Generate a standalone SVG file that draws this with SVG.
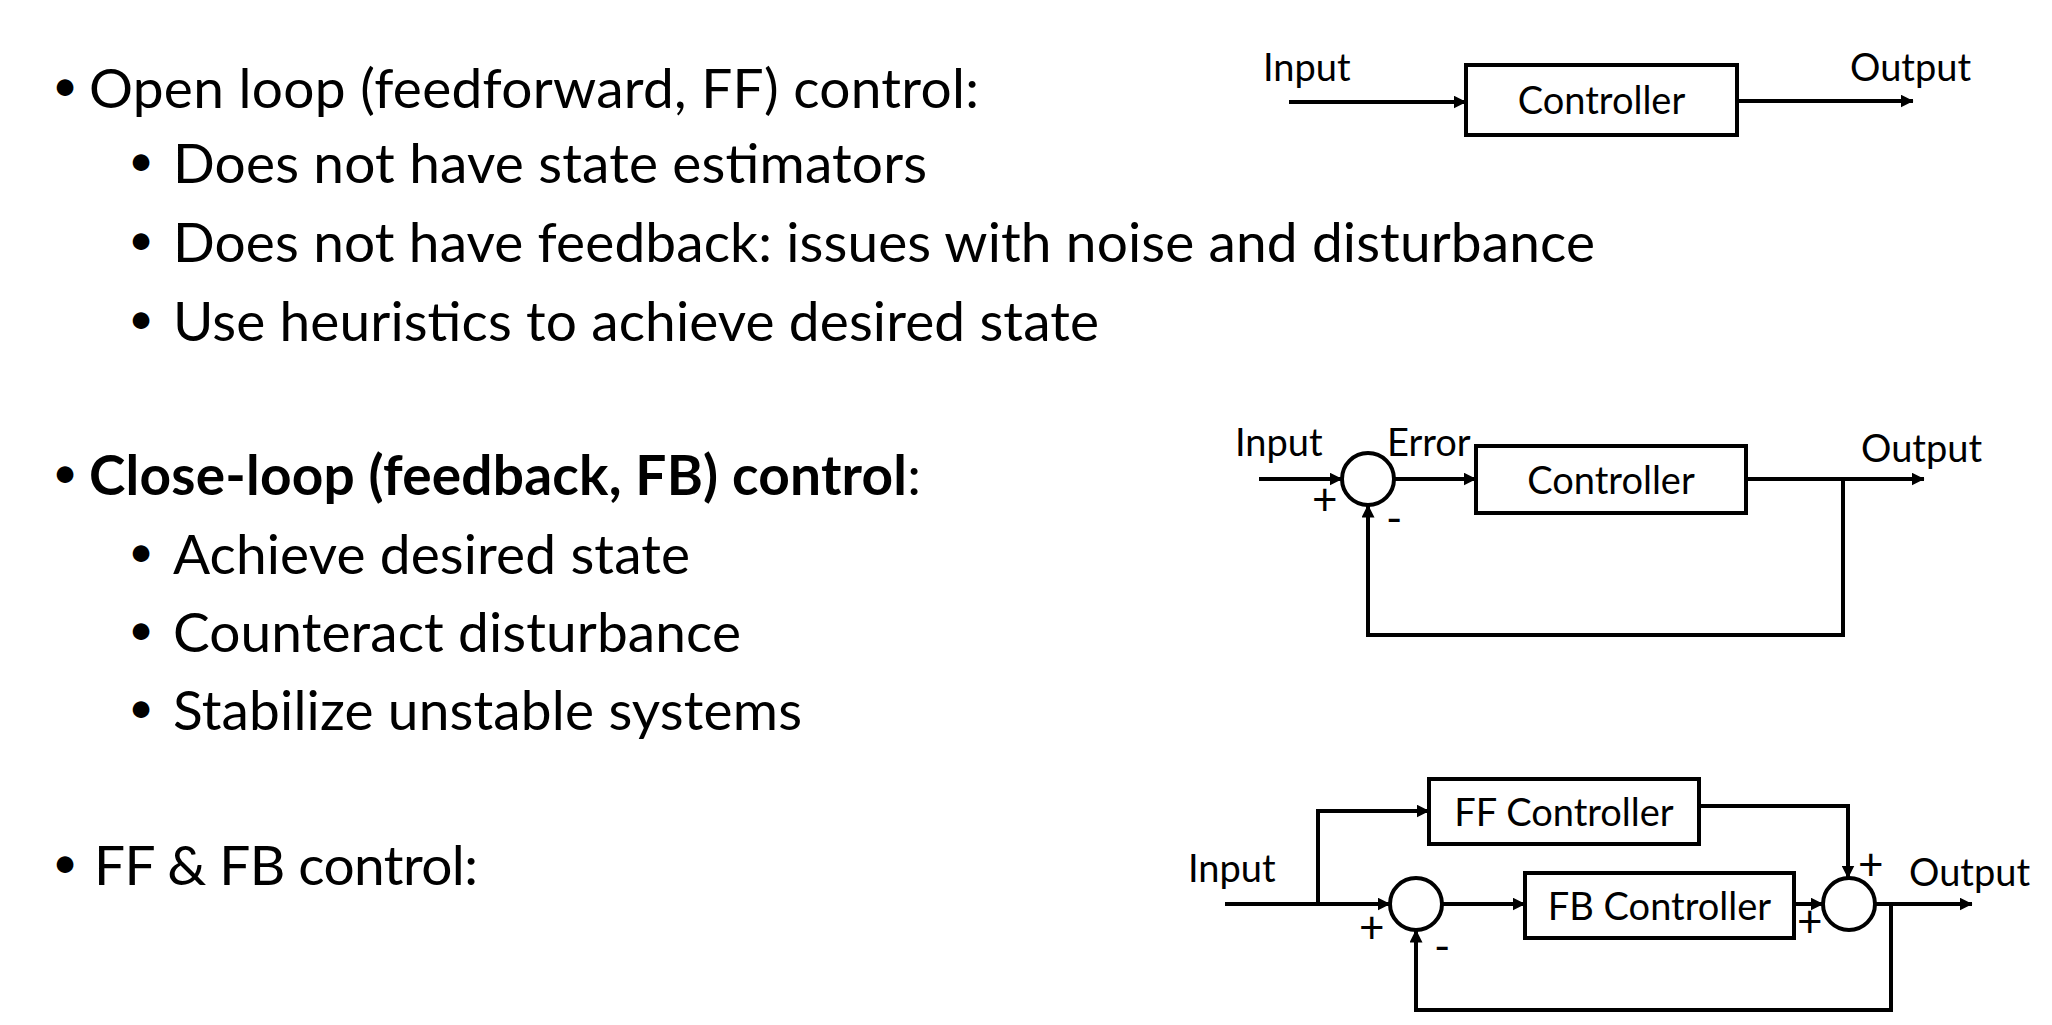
<svg xmlns="http://www.w3.org/2000/svg" width="2052" height="1025" viewBox="0 0 2052 1025">
<style>
.t{font-family:Lato,"Liberation Sans",sans-serif;font-size:55px;fill:#000}
.u{font-family:Lato,"Liberation Sans",sans-serif;font-size:45px;fill:#000}
.b{font-weight:bold}
.d{font-family:Lato,"Liberation Sans",sans-serif;font-size:38px;fill:#000}
.s{font-family:Lato,"Liberation Sans",sans-serif;font-size:44px;fill:#000}
.box{fill:#fff;stroke:#000;stroke-width:4}
.c{fill:#fff;stroke:#000;stroke-width:4}
.w{fill:none;stroke:#000;stroke-width:4}
</style>
<defs>
<marker id="arr" viewBox="0 0 13 13" refX="12.5" refY="6.5" markerWidth="13" markerHeight="13" orient="auto" markerUnits="userSpaceOnUse"><path d="M0,0 L13,6.5 L0,13 z" fill="#000"/></marker>
</defs>
<rect width="2052" height="1025" fill="#fff"/>
<g id="bullets">
<text class="u" x="52" y="101">•</text>
<text class="t" x="89" y="108" textLength="890">Open loop (feedforward, FF) control:</text>
<text class="u" x="128" y="176">•</text>
<text class="t" x="173" y="183" textLength="754">Does not have state estimators</text>
<text class="u" x="128" y="255">•</text>
<text class="t" x="173" y="262" textLength="1422">Does not have feedback: issues with noise and disturbance</text>
<text class="u" x="128" y="334">•</text>
<text class="t" x="173" y="341" textLength="926">Use heuristics to achieve desired state</text>
<text class="u" x="52" y="488">•</text>
<text class="t" x="89" y="495"><tspan class="b" textLength="818">Close-loop (feedback, FB) control</tspan>:</text>
<text class="u" x="128" y="567">•</text>
<text class="t" x="173" y="574" textLength="517">Achieve desired state</text>
<text class="u" x="128" y="645">•</text>
<text class="t" x="173" y="652" textLength="568">Counteract disturbance</text>
<text class="u" x="128" y="723">•</text>
<text class="t" x="173" y="730" textLength="629">Stabilize unstable systems</text>
<text class="u" x="52" y="878">•</text>
<text class="t" x="94" y="885" textLength="384">FF &amp; FB control:</text>
</g>
<g id="ol-controller"><rect class="box" x="1466" y="65" width="271" height="70"/><text class="d" x="1601.5" y="114" text-anchor="middle">Controller</text></g>
<g id="ol-labels"><text class="d" x="1263" y="81">Input</text><text class="d" x="1850" y="81">Output</text></g>
<g id="cl-sum"><circle class="c" cx="1368" cy="479" r="26"/></g>
<g id="cl-controller"><rect class="box" x="1476" y="446" width="270" height="67"/><text class="d" x="1611" y="494" text-anchor="middle">Controller</text></g>
<g id="cl-labels"><text class="d" x="1235" y="456">Input</text><text class="d" x="1387" y="456">Error</text><text class="d" x="1861" y="462">Output</text><text class="s" x="1312" y="515">+</text><text class="s" x="1386" y="534">-</text></g>
<g id="ff-controller"><rect class="box" x="1429" y="779" width="270" height="65"/><text class="d" x="1564" y="826" text-anchor="middle">FF Controller</text></g>
<g id="fb-controller"><rect class="box" x="1525" y="873" width="269" height="65"/><text class="d" x="1659.5" y="920" text-anchor="middle">FB Controller</text></g>
<g id="ffb-sum1"><circle class="c" cx="1416" cy="904" r="26"/></g>
<g id="ffb-sum2"><circle class="c" cx="1849" cy="904" r="26"/></g>
<g id="ffb-labels"><text class="d" x="1188" y="882">Input</text><text class="d" x="1909" y="886">Output</text><text class="s" x="1359" y="943">+</text><text class="s" x="1434" y="962">-</text><text class="s" x="1858" y="880">+</text><text class="s" x="1797" y="937">+</text></g>
<g id="connectors">
<line class="w" x1="1289" y1="102" x2="1466" y2="102" marker-end="url(#arr)"/>
<line class="w" x1="1737" y1="101" x2="1913" y2="101" marker-end="url(#arr)"/>
<line class="w" x1="1259" y1="479" x2="1342" y2="479" marker-end="url(#arr)"/>
<line class="w" x1="1394" y1="479" x2="1476" y2="479" marker-end="url(#arr)"/>
<line class="w" x1="1746" y1="479" x2="1924" y2="479" marker-end="url(#arr)"/>
<path class="w" d="M1843,479 V635 H1368 V505" marker-end="url(#arr)"/>
<line class="w" x1="1225" y1="904" x2="1390" y2="904" marker-end="url(#arr)"/>
<path class="w" d="M1318,904 V811 H1429" marker-end="url(#arr)"/>
<path class="w" d="M1699,806 H1848 V878" marker-end="url(#arr)"/>
<line class="w" x1="1442" y1="904" x2="1525" y2="904" marker-end="url(#arr)"/>
<line class="w" x1="1794" y1="904" x2="1823" y2="904" marker-end="url(#arr)"/>
<line class="w" x1="1875" y1="904" x2="1972" y2="904" marker-end="url(#arr)"/>
<path class="w" d="M1891,904 V1010 H1416 V930" marker-end="url(#arr)"/>
</g>
</svg>
